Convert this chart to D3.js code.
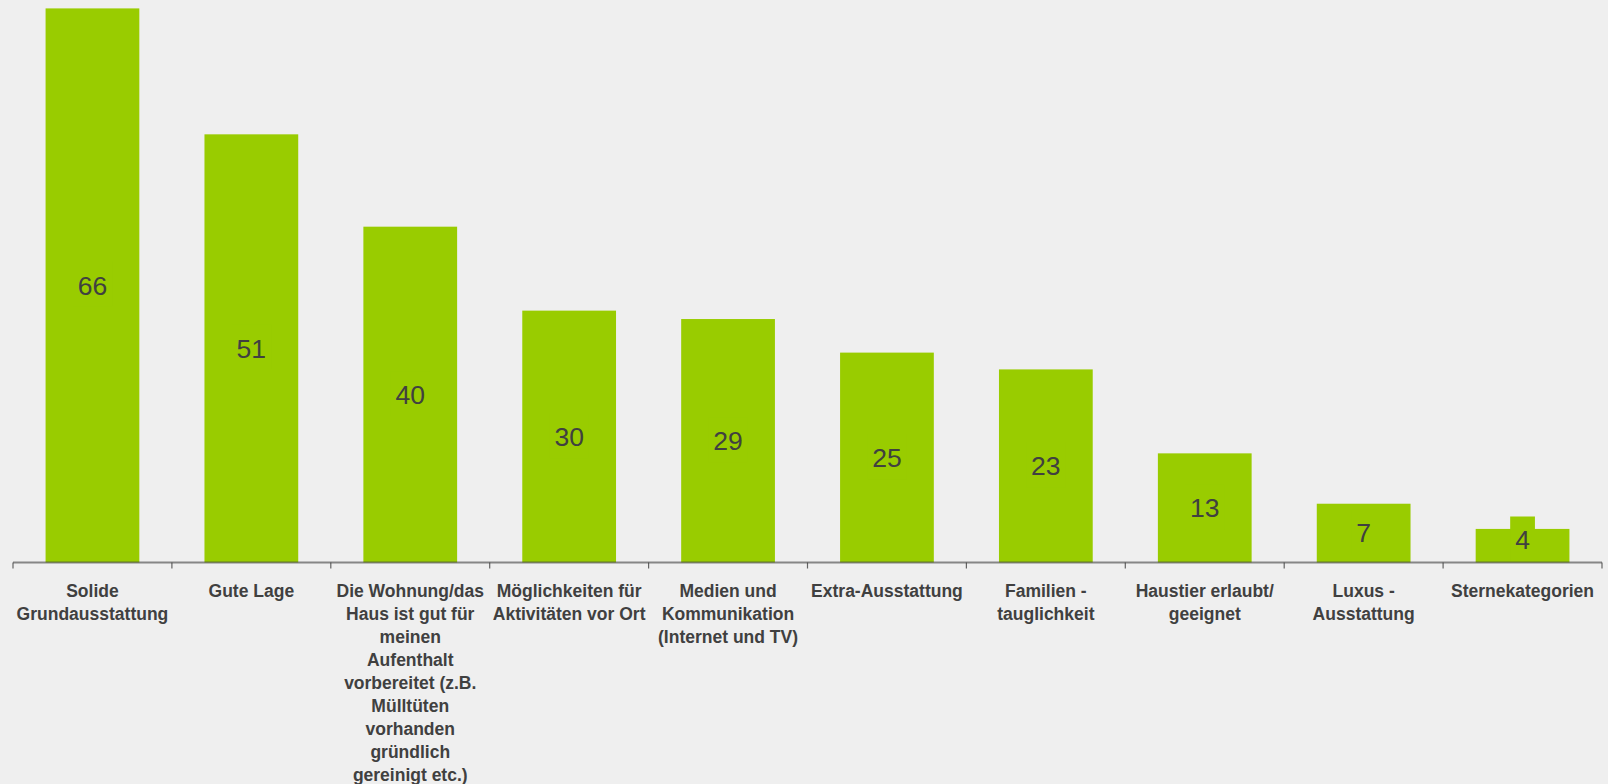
<!DOCTYPE html>
<html>
<head>
<meta charset="utf-8">
<script src="https://cdn.jsdelivr.net/npm/d3@7"></script>
<style>
  html, body { margin: 0; padding: 0; background: #efefef; }
  svg { display: block; }
</style>
</head>
<body>
<svg id="chart" width="1608" height="784"></svg>
<script>
// Category labels (line breaks as they wrap under each bar)
const categories = [
  "Solide\nGrundausstattung",
  "Gute Lage",
  "Die Wohnung/das\nHaus ist gut für\nmeinen\nAufenthalt\nvorbereitet (z.B.\nMülltüten\nvorhanden\ngründlich\ngereinigt etc.)",
  "Möglichkeiten für\nAktivitäten vor Ort",
  "Medien und\nKommunikation\n(Internet und TV)",
  "Extra-Ausstattung",
  "Familien -\ntauglichkeit",
  "Haustier erlaubt/\ngeeignet",
  "Luxus -\nAusstattung",
  "Sternekategorien"
];
// Share of respondents (%)
const values = [66, 51, 40, 30, 29, 25, 23, 13, 7, 4];

const green = "#99cc00";
const textColor = "#404040";

const svg = d3.select("#chart");
const axisY = 562.5;

const x = d3.scaleBand()
  .domain(categories)
  .range([13, 1602])
  .padding(0);

const y = d3.scaleLinear()
  .domain([0, 67])
  .range([axisY, 0]);

const barW = x.bandwidth() * 0.59;

// bars
svg.append("g").selectAll("rect")
  .data(values)
  .join("rect")
  .attr("x", (d, i) => x(categories[i]) + (x.bandwidth() - barW) / 2)
  .attr("y", d => y(d))
  .attr("width", barW)
  .attr("height", d => y(0) - y(d))
  .attr("fill", green);

// value labels with box behind them
const boxH = 45;
const labels = svg.append("g").selectAll("g")
  .data(values)
  .join("g")
  .attr("transform", (d, i) => {
    const cx = x(categories[i]) + x.bandwidth() / 2;
    const cy = Math.min((y(d) + y(0)) / 2, y(0) - boxH / 2);
    return `translate(${cx},${cy})`;
  });

labels.append("text")
  .attr("text-anchor", "middle")
  .attr("dy", "0.35em")
  .attr("font-family", "'Liberation Sans', Arial, sans-serif")
  .attr("font-size", 26.5)
  .attr("fill", textColor)
  .text(d => d);

labels.each(function () {
  const g = d3.select(this);
  const bb = g.select("text").node().getBBox();
  g.insert("rect", "text")
    .attr("x", bb.x - 5)
    .attr("y", -boxH / 2 - 1)
    .attr("width", bb.width + 10)
    .attr("height", boxH)
    .attr("fill", green);
});

// category axis
const axis = svg.append("g")
  .attr("transform", `translate(0,${axisY})`);

axis.append("line")
  .attr("x1", x.range()[0])
  .attr("x2", x.range()[1])
  .attr("stroke", "#404040")
  .attr("stroke-opacity", 0.6)
  .attr("stroke-width", 2);

const tickPos = categories.map(c => x(c)).concat([x.range()[1]]);
axis.selectAll("line.tick")
  .data(tickPos)
  .join("line")
  .attr("class", "tick")
  .attr("x1", d => d).attr("x2", d => d)
  .attr("y1", 0).attr("y2", 6)
  .attr("stroke", "#404040")
  .attr("stroke-opacity", 0.8)
  .attr("stroke-width", 1.2);

const lineH = 23;
const firstBase = 596.5;
const catText = svg.append("g").selectAll("text")
  .data(categories)
  .join("text")
  .attr("x", d => x(d) + x.bandwidth() / 2)
  .attr("y", firstBase)
  .attr("text-anchor", "middle")
  .attr("font-family", "'Liberation Sans', Arial, sans-serif")
  .attr("font-weight", "bold")
  .attr("font-size", 17.5)
  .attr("fill", textColor);

catText.each(function (d) {
  const t = d3.select(this);
  d.split("\n").forEach((ln, j) => {
    t.append("tspan")
      .attr("x", x(d) + x.bandwidth() / 2)
      .attr("y", firstBase + j * lineH)
      .text(ln);
  });
});
</script>
</body>
</html>
